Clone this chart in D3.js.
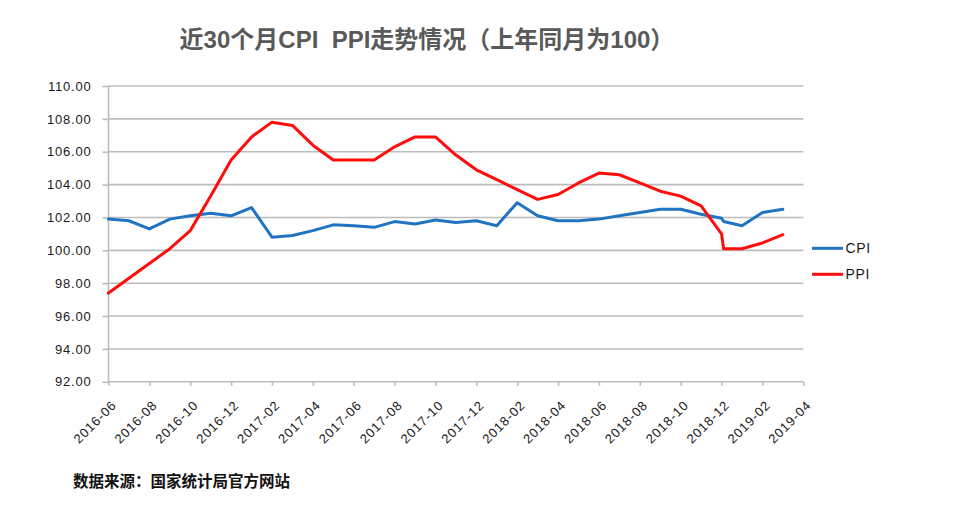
<!DOCTYPE html>
<html>
<head>
<meta charset="utf-8">
<script src="https://cdn.jsdelivr.net/npm/d3@7"></script>
<style>
  html, body { margin: 0; padding: 0; background: #fff; }
  svg { display: block; }
  text { white-space: pre; }
</style>
</head>
<body>
<svg id="chart" width="971" height="505"></svg>
<script>
// ---- data ----
const dates = [
  "2016-06","2016-07","2016-08","2016-09","2016-10","2016-11","2016-12",
  "2017-01","2017-02","2017-03","2017-04","2017-05","2017-06","2017-07",
  "2017-08","2017-09","2017-10","2017-11","2017-12","2018-01","2018-02",
  "2018-03","2018-04","2018-05","2018-06","2018-07","2018-08","2018-09",
  "2018-10","2018-11","2018-12","2018-12-04","2019-01","2019-02","2019-03"
];
const cpi = [
  101.9, 101.8, 101.3, 101.9, 102.1, 102.25, 102.1,
  102.6, 100.8, 100.9, 101.2, 101.55, 101.5, 101.4,
  101.75, 101.6, 101.85, 101.7, 101.8, 101.5, 102.9,
  102.1, 101.8, 101.8, 101.9, 102.1, 102.3, 102.5,
  102.5, 102.2, 101.95, 101.75, 101.5, 102.3, 102.5
];
const ppi = [
  97.4, 98.3, 99.2, 100.1, 101.2, 103.3, 105.5,
  106.9, 107.8, 107.6, 106.4, 105.5, 105.5, 105.5,
  106.3, 106.9, 106.9, 105.8, 104.9, 104.3, 103.7,
  103.1, 103.4, 104.1, 104.7, 104.6, 104.1, 103.6,
  103.3, 102.7, 101.0, 100.1, 100.1, 100.45, 100.95
];
const tickLabels = [
  "2016-06","2016-08","2016-10","2016-12","2017-02","2017-04","2017-06",
  "2017-08","2017-10","2017-12","2018-02","2018-04","2018-06","2018-08",
  "2018-10","2018-12","2019-02","2019-04"
];
const yTicks = [92, 94, 96, 98, 100, 102, 104, 106, 108, 110];
const seriesNames = ["CPI", "PPI"];
const seriesColors = ["#1f74c2", "#ff0d0d"];
const titleText = "近30个月CPI  PPI走势情况（上年同月为100）";
const sourceText = "数据来源：国家统计局官方网站";

// ---- helpers ----
function monthIndex(s) {
  const p = s.split("-").map(Number);
  const d = p.length > 2 ? p[2] : 1;
  return (p[0] - 2016) * 12 + (p[1] - 6) + (d - 1) / 30;
}

const svg = d3.select("#chart");
const plotLeft = 108.5, plotRight = 803.3, plotTop = 86, plotBottom = 381.8;

const x = d3.scaleLinear()
  .domain([monthIndex(tickLabels[0]), monthIndex(tickLabels[tickLabels.length - 1])])
  .range([plotLeft, plotRight]);
const y = d3.scaleLinear().domain([92, 110]).range([plotBottom, plotTop]);

const latin = "'Liberation Sans', Arial, 'Noto Sans CJK SC', sans-serif";

// title
svg.append("text")
  .attr("x", 427).attr("y", 47.5)
  .attr("text-anchor", "middle")
  .attr("font-family", "'Liberation Sans', 'Noto Sans CJK SC', sans-serif")
  .attr("font-weight", "bold")
  .attr("font-size", 24)
  .attr("fill", "#595959")
  .text(titleText);

// grid lines
svg.append("g").selectAll("line")
  .data(yTicks.filter(v => v !== 92))
  .join("line")
  .attr("x1", plotLeft).attr("x2", plotRight)
  .attr("y1", d => y(d)).attr("y2", d => y(d))
  .attr("stroke", "#bcbcbc")
  .attr("stroke-width", 1.6);

// y axis
const yAxis = svg.append("g")
  .attr("transform", `translate(${plotLeft},0)`)
  .call(d3.axisLeft(y).tickValues(yTicks).tickSize(6).tickPadding(11)
    .tickFormat(d3.format(".2f")));
yAxis.select(".domain").attr("stroke", "#bcbcbc").attr("stroke-width", 1.6)
  .attr("d", `M0,${plotTop}V${plotBottom}`);
yAxis.selectAll(".tick line").attr("stroke", "#bcbcbc").attr("stroke-width", 1.6);
yAxis.selectAll(".tick text")
  .attr("font-family", latin).attr("font-size", 13)
  .attr("letter-spacing", "0.8px")
  .attr("fill", "#1a1a1a");

// x axis
const xAxis = svg.append("g")
  .attr("transform", `translate(0,${plotBottom})`)
  .call(d3.axisBottom(x).tickValues(tickLabels.map(monthIndex)).tickSize(4)
    .tickFormat((d, i) => tickLabels[i]));
xAxis.select(".domain").attr("stroke", "#bcbcbc").attr("stroke-width", 1.6)
  .attr("d", `M${plotLeft},0H${plotRight}`);
xAxis.selectAll(".tick line").attr("stroke", "#bcbcbc").attr("stroke-width", 1.6);
xAxis.selectAll(".tick text")
  .attr("font-family", latin).attr("font-size", 13)
  .attr("letter-spacing", "0.9px")
  .attr("fill", "#1a1a1a")
  .attr("text-anchor", "end")
  .attr("dy", "0.35em")
  .attr("transform", "translate(5,21) rotate(-45)")
  .attr("y", 0).attr("x", 0);

// lines
const lineGen = d3.line()
  .x((d, i) => x(monthIndex(dates[i])))
  .y(d => y(d));

[cpi, ppi].forEach((vals, k) => {
  svg.append("path")
    .datum(vals)
    .attr("fill", "none")
    .attr("stroke", seriesColors[k])
    .attr("stroke-width", 3)
    .attr("stroke-linejoin", "round")
    .attr("stroke-linecap", "round")
    .attr("d", lineGen);
});

// legend
const legend = svg.append("g");
seriesNames.forEach((name, k) => {
  const ly = 248.3 + k * 26;
  legend.append("line")
    .attr("x1", 812).attr("x2", 843)
    .attr("y1", ly).attr("y2", ly)
    .attr("stroke", seriesColors[k]).attr("stroke-width", 3);
  legend.append("text")
    .attr("x", 845.5).attr("y", ly + 5)
    .attr("font-family", latin).attr("font-size", 14)
    .attr("letter-spacing", "0.6px")
    .attr("fill", "#1a1a1a")
    .text(name);
});

// source
svg.append("text")
  .attr("x", 73).attr("y", 487)
  .attr("font-family", "'Noto Sans CJK SC', sans-serif")
  .attr("font-weight", "bold")
  .attr("font-size", 15.5)
  .attr("fill", "#111")
  .text(sourceText);
</script>
</body>
</html>
